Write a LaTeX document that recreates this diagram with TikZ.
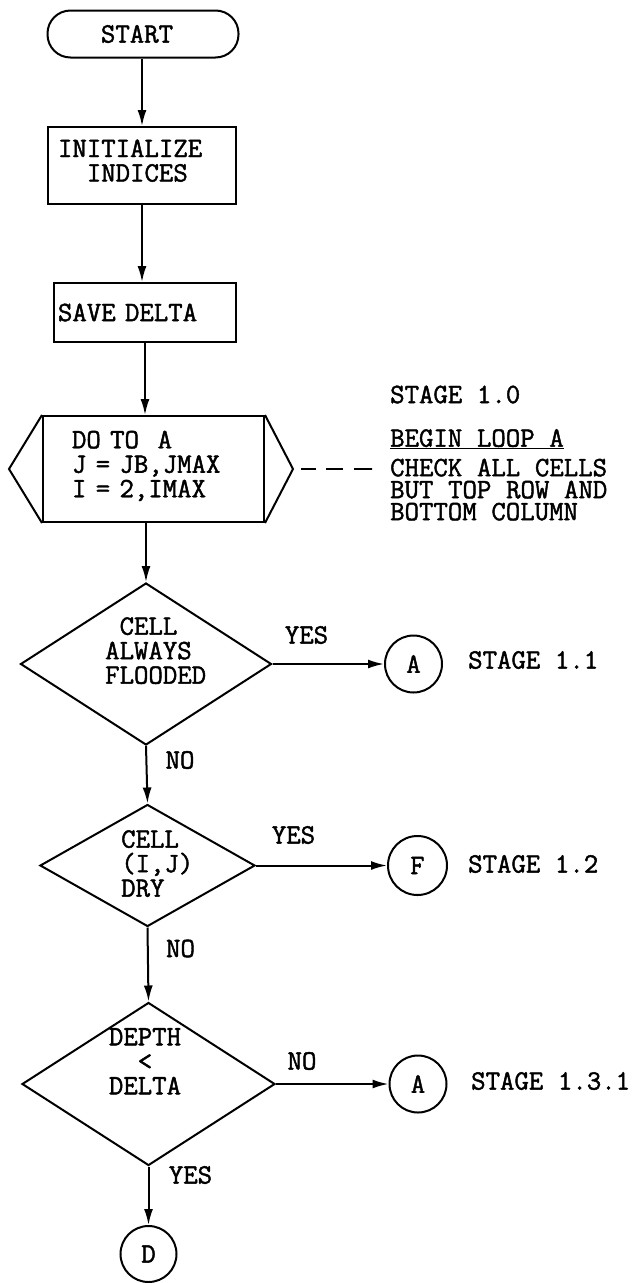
\documentclass[tikz,border=0pt]{standalone}
\usepackage{fontspec}
\setmonofont{Latin Modern Mono}[FakeBold=1.6]
\usetikzlibrary{shapes.geometric,arrows.meta}
\newcommand{\twfont}[1]{\fontsize{28pt}{#1}\selectfont\ttfamily\fontdimen2\font=14.7pt\fontdimen3\font=0pt\fontdimen4\font=0pt\relax}
\newcommand{\lowpad}{\rule[-10pt]{0pt}{10pt}}
\begin{document}
\begin{tikzpicture}[x=1pt,y=-1pt,
  every node/.style={font=\twfont{24.5pt}, inner sep=0pt},
  box/.style={draw, line width=2pt, rectangle, align=left, inner ysep=0pt},
  decision/.style={draw, line width=2pt, diamond},
  conn/.style={line width=2pt, -{Latex[length=16pt,width=9pt]}},
  term/.style={draw, line width=2pt, circle, minimum size=57pt},
  hexside/.style={line width=2pt, line join=miter},
  notefont/.style={font=\twfont{22pt}}
]
\useasboundingbox (0,0) rectangle (638,1283);

% process column
\node[draw, line width=2pt, rounded corners=23pt, minimum width=191pt, minimum height=47pt] (start) at (143,34) {START\rule{12pt}{0pt}};
\node[box, text width=168pt, inner xsep=10pt, minimum height=77pt] (init) at (142,165.5) {INITIALIZE\\\phantom{II}INDICES\lowpad};
\node[box, text width=174pt, inner xsep=4pt, minimum height=59pt] (save) at (145,312.5) {SAVE DELTA};
\node[box, text width=163pt, inner xsep=29pt, minimum height=106pt] (loop) at (153.5,469) {DO TO\ \ A\\J = JB,JMAX\\I = 2,IMAX\lowpad};
\coordinate (loopL) at (9,469);
\coordinate (loopR) at (293,469);
\draw[hexside] (loop.north west) -- (loopL) -- (loop.south west);
\draw[hexside] (loop.north east) -- (loopR) -- (loop.south east);

% loop annotation
\coordinate (dashend) at (372,469);
\draw[line width=2pt, dash pattern=on 0pt off 8pt on 15pt off 10pt on 17pt off 11pt on 18pt] (loopR) -- (dashend);
\node[anchor=west] (s10) at (390,394.5) {STAGE 1.0};
\node[notefont, anchor=north west, align=left] (note) at (390,429) {\underline{BEGIN LOOP A}\\[7.5pt]CHECK ALL CELLS\\BUT TOP ROW AND\\BOTTOM COLUMN};

% decisions
\node[decision, minimum width=251pt, minimum height=162pt] (d1) at (146,664) {};
\node[anchor=north west, align=left] (d1t) at (105,617) {\phantom{A}CELL\\ALWAYS\\FLOODED};
\node[decision, minimum width=215pt, minimum height=122pt] (d2) at (147.5,865.5) {};
\node[anchor=north west, align=left] (d2t) at (121,830) {CELL\\(I,J)\\DRY};
\node[decision, minimum width=253pt, minimum height=163pt] (d3) at (148.5,1084) {};
\node[anchor=north, align=center] (d3t) at (145,1028) {DEPTH\\<\\DELTA};

% connectors (circles)
\node[term] (cA1) at (413.5,664) {A};
\node[term, minimum size=59pt] (cF) at (417.5,865.5) {F};
\node[term] (cA2) at (418,1084) {A};
\node[term, minimum size=56pt] (cD) at (148.5,1254) {D};

% stage labels
\node[anchor=west] (s11) at (468,660) {STAGE 1.1};
\node[anchor=west] (s12) at (468,864) {STAGE 1.2};
\node[anchor=west] (s131) at (471,1081) {STAGE 1.3.1};

% branch labels
\node (yes1) at (306.5,635) {YES};
\node (no1) at (180,760) {NO};
\node (yes2) at (293.5,835) {YES};
\node (no2) at (180.5,948.5) {NO};
\node (no3) at (302,1061) {NO};
\node (yes3) at (190.5,1175) {YES};

% flow lines
\draw[conn] (start.south -| init.north) -- (init.north);
\draw[conn] (init.south) -- (init.south |- save.north);
\draw[conn] (save.south) -- (save.south |- loop.north);
\draw[conn] (loop.south -| d1.north) -- (d1.north);
\draw[conn] (d1.south) -- (d2.north);
\draw[conn] (d2.south) -- (d3.north);
\draw[conn] (d3.south) -- (cD.north);
\draw[conn] (d1.east) -- (cA1.west);
\draw[conn] (d2.east) -- (cF.west);
\draw[conn] (d3.east) -- (cA2.west);
\end{tikzpicture}
\end{document}
